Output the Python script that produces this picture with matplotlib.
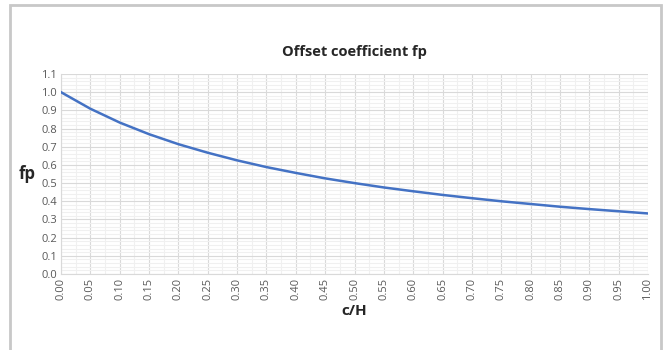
import matplotlib.pyplot as plt
from matplotlib.patches import Rectangle
from matplotlib.ticker import MultipleLocator

# c/H ratio and offset coefficient fp
c_over_h = [0.00, 0.05, 0.10, 0.15, 0.20, 0.25, 0.30, 0.35, 0.40, 0.45, 0.50,
            0.55, 0.60, 0.65, 0.70, 0.75, 0.80, 0.85, 0.90, 0.95, 1.00]
fp = [1.000, 0.909, 0.833, 0.769, 0.714, 0.667, 0.625, 0.588, 0.556, 0.526, 0.500,
      0.476, 0.455, 0.435, 0.417, 0.400, 0.385, 0.370, 0.357, 0.345, 0.333]

plt.rcParams["font.family"] = ["Open Sans", "DejaVu Sans"]

fig = plt.figure(figsize=(6.7, 3.5), dpi=100)
ax = fig.add_axes([61 / 670, 76 / 350, 587 / 670, 200 / 350])

# chart border
fig.patches.append(Rectangle((10 / 670, -0.05), 651 / 670, 1.035,
                             transform=fig.transFigure, fill=False,
                             edgecolor="#c8c8c8", linewidth=2))

ax.plot(c_over_h, fp, color="#4472C4", linewidth=1.8, zorder=3)

ax.set_xlim(0, 1)
ax.set_ylim(0, 1.1)
ax.xaxis.set_major_locator(MultipleLocator(0.05))
ax.xaxis.set_minor_locator(MultipleLocator(0.025))
ax.yaxis.set_major_locator(MultipleLocator(0.1))
ax.yaxis.set_minor_locator(MultipleLocator(0.02))
ax.xaxis.set_major_formatter(lambda v, pos: f"{v:.2f}")
ax.yaxis.set_major_formatter(lambda v, pos: f"{v:.1f}")

ax.grid(which="major", color="#d9d9d9", linewidth=0.8)
ax.grid(which="minor", color="#f0f0f0", linewidth=0.8)
ax.set_axisbelow(True)

for side in ["top", "right"]:
    ax.spines[side].set_visible(False)
for side in ["left", "bottom"]:
    ax.spines[side].set_color("#d9d9d9")

ax.tick_params(which="both", length=0, colors="#595959", labelsize=8)
ax.tick_params(axis="x", labelrotation=90, pad=3)
ax.tick_params(axis="y", pad=3)

ax.set_title("Offset coefficient fp", fontsize=10.5, fontweight="bold",
             color="#262626", pad=13)
ax.set_xlabel("c/H", fontsize=11, fontweight="bold", color="#262626", labelpad=3)
ax.set_ylabel("fp", fontsize=12, fontweight="bold", color="#262626",
              rotation=0, labelpad=10, va="center")

fig.savefig("out.png", dpi=100)
